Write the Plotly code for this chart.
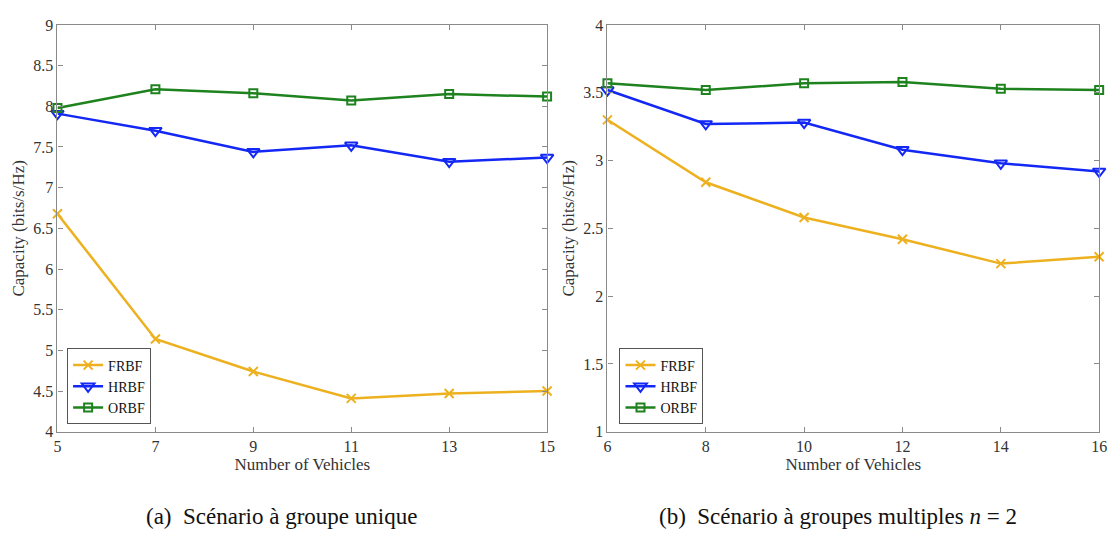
import plotly.graph_objects as go
from plotly.subplots import make_subplots

# Single-group scenario
vehicles_a = [5, 7, 9, 11, 13, 15]
frbf_a = [6.68, 5.14, 4.74, 4.41, 4.47, 4.50]
hrbf_a = [7.91, 7.70, 7.44, 7.52, 7.32, 7.37]
orbf_a = [7.98, 8.21, 8.16, 8.07, 8.15, 8.12]

# Multi-group scenario, n = 2
vehicles_b = [6, 8, 10, 12, 14, 16]
frbf_b = [3.30, 2.84, 2.58, 2.42, 2.24, 2.29]
hrbf_b = [3.52, 3.27, 3.28, 3.08, 2.98, 2.92]
orbf_b = [3.57, 3.52, 3.57, 3.58, 3.53, 3.52]

yticks_a = [4, 4.5, 5, 5.5, 6, 6.5, 7, 7.5, 8, 8.5, 9]
yticks_b = [1, 1.5, 2, 2.5, 3, 3.5, 4]

series_names = ["FRBF", "HRBF", "ORBF"]
colors = ["#EDB120", "#1428F5", "#1E821E"]
symbols = ["x-thin-open", "triangle-down-open", "square-open"]
sizes = [9, 11, 8]

FONT = "Liberation Serif"

fig = make_subplots(rows=1, cols=2)

panels = [
    (1, vehicles_a, [frbf_a, hrbf_a, orbf_a], "legend"),
    (2, vehicles_b, [frbf_b, hrbf_b, orbf_b], "legend2"),
]
for col, xs, ys_list, leg in panels:
    for name, ys, c, s, sz in zip(series_names, ys_list, colors, symbols, sizes):
        fig.add_trace(
            go.Scatter(
                x=xs, y=ys, name=name, mode="lines+markers",
                line=dict(color=c, width=2.5),
                marker=dict(symbol=s, size=sz, color=c,
                            line=dict(color=c, width=2)),
                legend=leg, cliponaxis=False,
            ),
            row=1, col=col,
        )

axis_common = dict(
    showline=True, linecolor="#8a8a8a", linewidth=1.2, mirror="ticks",
    ticks="inside", ticklen=5, tickcolor="#8a8a8a", showgrid=False,
    zeroline=False, tickfont=dict(family=FONT, size=16, color="#333333"),
)

fig.update_xaxes(axis_common)
fig.update_yaxes(axis_common)

title_font = dict(family=FONT, size=17, color="#333333")

fig.update_xaxes(domain=[0.0483, 0.4906], range=[5, 15], tickvals=vehicles_a,
                 title=dict(text="Number of Vehicles", standoff=2, font=title_font),
                 row=1, col=1)
fig.update_xaxes(domain=[0.5451, 0.9893], range=[6, 16], tickvals=vehicles_b,
                 title=dict(text="Number of Vehicles", standoff=2, font=title_font),
                 row=1, col=2)

ydom = [1 - 437.5 / 541, 1 - 17.5 / 541]
fig.update_yaxes(domain=ydom, range=[4, 9], tickvals=yticks_a,
                 title=dict(text="Capacity (bits/s/Hz)", standoff=4, font=title_font),
                 row=1, col=1)
fig.update_yaxes(domain=ydom, range=[1, 4], tickvals=yticks_b,
                 title=dict(text="Capacity (bits/s/Hz)", standoff=4, font=title_font),
                 row=1, col=2)

legend_style = dict(
    bgcolor="white", bordercolor="#555555", borderwidth=1,
    font=dict(family=FONT, size=14, color="#111111"),
    xanchor="left", yanchor="bottom", tracegroupgap=0,
    itemwidth=30,
)

caption_font = dict(family=FONT, size=23, color="#111111")

fig.update_layout(
    width=1119, height=541,
    margin=dict(l=0, r=0, t=0, b=0),
    paper_bgcolor="white", plot_bgcolor="white",
    legend=dict(legend_style, x=0.057, y=1 - 430 / 541),
    legend2=dict(legend_style, x=0.556, y=1 - 430 / 541),
    annotations=[
        dict(text="(a)  Scénario à groupe unique", x=281 / 1119, y=1 - 525 / 541,
             xref="paper", yref="paper", showarrow=False,
             xanchor="center", yanchor="middle", font=caption_font),
        dict(text="(b)  Scénario à groupes multiples <i>n</i> = 2", x=843 / 1119,
             y=1 - 525 / 541, xref="paper", yref="paper", showarrow=False,
             xanchor="center", yanchor="middle", font=caption_font),
    ],
)

fig.write_html("out.html")
